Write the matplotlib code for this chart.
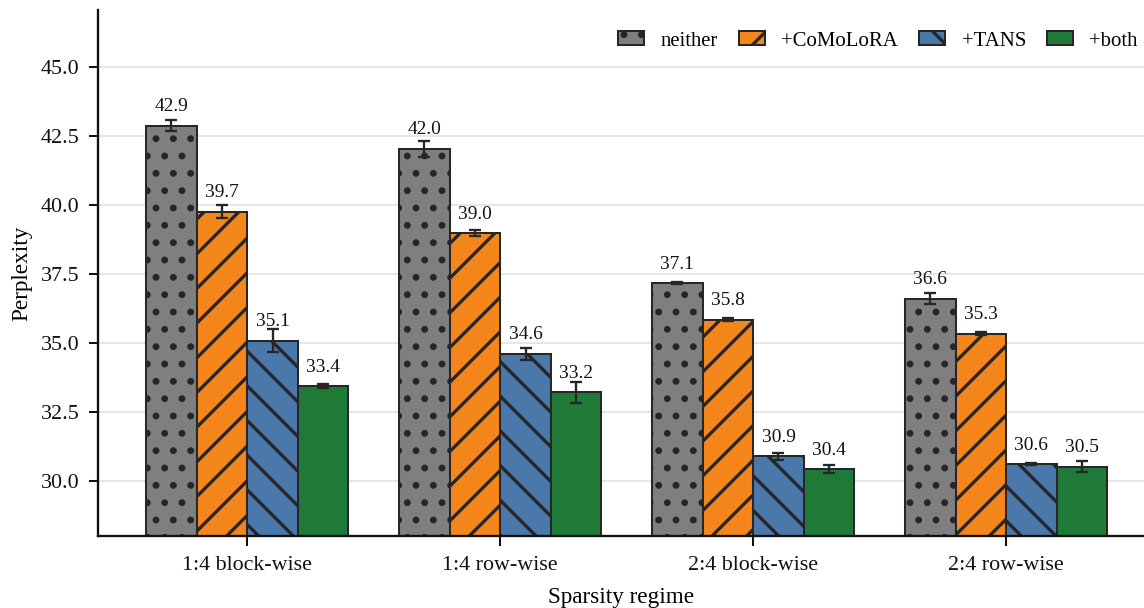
"""
Perplexity by sparsity regime, grouped bars with error bars.
"""

import matplotlib.pyplot as plt
import numpy as np


regimes = ["1:4 block-wise", "1:4 row-wise", "2:4 block-wise", "2:4 row-wise"]
variants = ["neither", "+CoMoLoRA", "+TANS", "+both"]

ppl_neither = [42.86, 42.03, 37.15, 36.60]
ppl_comolora = [39.74, 38.97, 35.83, 35.33]
ppl_tans = [35.07, 34.60, 30.88, 30.61]
ppl_both = [33.43, 33.21, 30.43, 30.51]

err_neither = [0.21, 0.29, 0.04, 0.20]
err_comolora = [0.24, 0.12, 0.06, 0.04]
err_tans = [0.42, 0.21, 0.12, 0.05]
err_both = [0.06, 0.38, 0.14, 0.19]

colors = ["#7f7f7f", "#f5861c", "#4a78aa", "#1f7a38"]
hatches = ["..", "//", "\\\\", ""]

plt.rcParams["font.family"] = ["Liberation Serif", "DejaVu Serif"]
plt.rcParams["hatch.linewidth"] = 1.15


def plot_perplexity(filename="out.png"):
    fig = plt.figure(figsize=(5.5, 608 / 208), dpi=208)
    ax = fig.add_axes([0.0857, 0.1184, 0.9143, 0.8652])

    means = [ppl_neither, ppl_comolora, ppl_tans, ppl_both]
    errs = [err_neither, err_comolora, err_tans, err_both]

    x = np.arange(len(regimes))
    width = 0.2

    for i, (label, vals, err) in enumerate(zip(variants, means, errs)):
        pos = x + (i - 1.5) * width
        ax.bar(
            pos,
            vals,
            width,
            color=colors[i],
            edgecolor="#262626",
            linewidth=0.7,
            hatch=hatches[i],
            label=label,
            zorder=2,
        )
        ax.errorbar(
            pos,
            vals,
            yerr=err,
            fmt="none",
            ecolor="#262626",
            elinewidth=0.8,
            capsize=2.2,
            capthick=0.8,
            zorder=3,
        )
        for p, v in zip(pos, vals):
            ax.annotate(
                f"{v:.1f}",
                (p, v),
                xytext=(0, 3.6),
                textcoords="offset points",
                ha="center",
                va="bottom",
                fontsize=6.7,
                color="#111111",
            )

    ax.set_ylim(28.0, 47.05)
    ax.set_xlim(-0.59, 3.545)
    ax.set_yticks([30.0, 32.5, 35.0, 37.5, 40.0, 42.5, 45.0])
    ax.set_yticklabels([f"{t:.1f}" for t in ax.get_yticks()])
    ax.set_xticks(x)
    ax.set_xticklabels(regimes)

    ax.tick_params(axis="both", labelsize=7.6, colors="#111111", width=0.7)
    ax.tick_params(axis="y", length=3)
    ax.tick_params(axis="x", length=3.5)

    ax.grid(axis="y", color="#e3e3e3", linewidth=0.6, zorder=0)
    ax.set_axisbelow(True)

    for side in ["top", "right"]:
        ax.spines[side].set_visible(False)
    for side in ["left", "bottom"]:
        ax.spines[side].set_linewidth(0.8)
        ax.spines[side].set_color("#111111")

    ax.set_ylabel("Perplexity", fontsize=8, labelpad=3)
    ax.set_xlabel("Sparsity regime", fontsize=8)

    ax.legend(
        loc="upper right",
        ncol=4,
        frameon=False,
        fontsize=7.2,
        handlelength=1.25,
        handleheight=0.65,
        handletextpad=0.8,
        columnspacing=1.0,
        bbox_to_anchor=(1.012, 0.995),
    )

    fig.savefig(filename, dpi=208)
    plt.close(fig)


plot_perplexity()
